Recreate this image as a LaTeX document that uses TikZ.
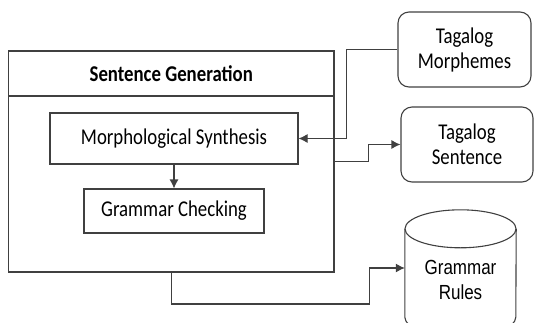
\documentclass[tikz,border=0pt]{standalone}
\usepackage{fontspec}
\usepackage{graphicx}
\setmainfont{Carlito}
\newfontfamily\arialfont{Liberation Sans}
\usetikzlibrary{arrows.meta}
\usetikzlibrary{positioning}
\newcommand{\tallt}[1]{\scalebox{1}[1.2]{#1}}
\tikzset{box/.style = {draw, line width = 1.1pt, inner sep = 0},
  rbox/.style = {box, rounded corners = 11pt, align = center},
  arr/.style = {line width = 1.1pt, -{Latex[length = 9pt, width = 9pt]}}}

\begin{document}
\begin{tikzpicture}[x=1pt, y=-1pt, font=\fontsize{18.8}{25}\selectfont, draw=black!75]
    \useasboundingbox (0, 0) rectangle (534, 322);
    \node [box, minimum width = 325.5, minimum height = 221] (gen) at (171.25, 161.5) {};
    \node [box, minimum width = 325.5, minimum height = 45, anchor = north, font = \bfseries\fontsize{18.8}{25}\selectfont] (title) at (gen.north) {\tallt{Sentence Generation}};
    \node [box, minimum width = 248, minimum height = 51] (ms) at (174, 138.5) {\tallt{Morphological Synthesis}};
    \node [box, minimum width = 180, minimum height = 44] (gc) at (174, 211) {\tallt{Grammar Checking}};
    \node [rbox, minimum width = 133, minimum height = 75] (morph) at (464.5, 49.5) {\tallt{Tagalog}\\\tallt{Morphemes}};
    \node [rbox, minimum width = 132, minimum height = 75] (sent) at (467, 144.5) {\tallt{Tagalog}\\\tallt{Sentence}};
    \node [inner sep = 0, minimum width = 111, minimum height = 126, font = \arialfont\fontsize{17}{25}\selectfont] (rules) at (460.5, 273)
      {\raisebox{-9pt}[\height][\depth]{\begin{tabular}{@{}c@{}}\tallt{Grammar}\\\tallt{Rules}\end{tabular}}};
    \draw [box] ([yshift=-19pt]rules.north west) -- ([yshift=19pt]rules.south west)
      arc [start angle=180, end angle=0, x radius=55.5, y radius=19] -- ([yshift=-19pt]rules.north east);
    \draw [box] ([yshift=-19pt]rules.north) ellipse [x radius=55.5, y radius=19];
    \coordinate (bend) at (369.5, 304);
    \draw [arr] (ms.south) -- (gc.north);
    \draw [arr] (morph.west) -- ++(-51, 0) |- (ms.east);
    \draw [arr] (gen.east) -- ++(34, 0) |- (sent.west);
    \draw [arr] (gen.south) |- (bend) |- ([yshift=5pt]rules.west);
  \end{tikzpicture}
\end{document}
